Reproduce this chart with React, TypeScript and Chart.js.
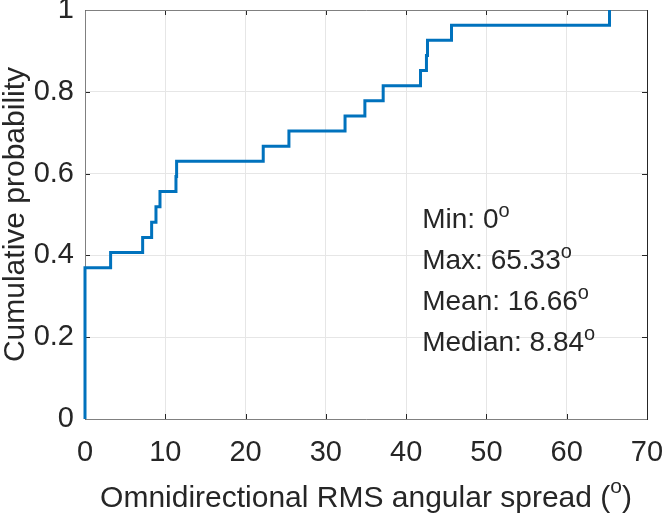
import React, { useEffect, useRef } from "react";
import { Chart, registerables } from "chart.js";

Chart.register(...registerables);

// empirical CDF: step positions (deg) and cumulative probability after each step
const stepX = [0, 0, 3.19, 7.18, 8.3, 8.84, 9.34, 11.33, 11.41, 22.2, 25.4, 32.39, 34.86, 37.14, 41.79, 42.53, 42.66, 45.65, 65.33];
const cdfY = [0, 0.37, 0.407, 0.444, 0.481, 0.519, 0.556, 0.593, 0.63, 0.667, 0.704, 0.741, 0.778, 0.815, 0.852, 0.889, 0.926, 0.963, 1];

const xTicks = [0, 10, 20, 30, 40, 50, 60, 70];
const yTicks = [0, 0.2, 0.4, 0.6, 0.8, 1];
const yTickLabels = ["0", "0.2", "0.4", "0.6", "0.8", "1"];

const statLabels = ["Min: 0", "Max: 65.33", "Mean: 16.66", "Median: 8.84"];
const statY = [0.485, 0.385, 0.285, 0.185];
const statX = 42;

const xTitle = "Omnidirectional RMS angular spread (";
const yTitle = "Cumulative probability";

const FONT = "'Liberation Sans', Arial, sans-serif";
const TEXT = "#262626";

const matlabAxes = {
  id: "matlabAxes",
  beforeDatasetsDraw(chart: any) {
    const { ctx, chartArea, scales } = chart;
    const { left, right, top, bottom } = chartArea;
    const x = scales.x;
    const y = scales.y;
    ctx.save();
    ctx.lineWidth = 1;
    ctx.strokeStyle = TEXT;
    const tl = 5;
    xTicks.forEach((v) => {
      const px = Math.round(x.getPixelForValue(v)) + 0.5;
      ctx.beginPath();
      ctx.moveTo(px, bottom);
      ctx.lineTo(px, bottom - tl);
      ctx.moveTo(px, top);
      ctx.lineTo(px, top + tl);
      ctx.stroke();
    });
    yTicks.forEach((v) => {
      const py = Math.round(y.getPixelForValue(v)) + 0.5;
      ctx.beginPath();
      ctx.moveTo(left, py);
      ctx.lineTo(left + tl, py);
      ctx.moveTo(right, py);
      ctx.lineTo(right - tl, py);
      ctx.stroke();
    });
    // box
    ctx.strokeStyle = "#808080";
    ctx.beginPath();
    ctx.moveTo(Math.round(right), Math.round(top) + 0.5);
    ctx.lineTo(Math.round(left) + 0.5, Math.round(top) + 0.5);
    ctx.lineTo(Math.round(left) + 0.5, Math.round(bottom) + 0.5);
    ctx.lineTo(Math.round(right), Math.round(bottom) + 0.5);
    ctx.stroke();
    ctx.strokeStyle = TEXT;
    ctx.beginPath();
    ctx.moveTo(Math.round(right) + 0.5, Math.round(top));
    ctx.lineTo(Math.round(right) + 0.5, Math.round(bottom) + 1);
    ctx.stroke();
    ctx.restore();
  },
  afterDraw(chart: any) {
    const { ctx, chartArea, scales } = chart;
    const x = scales.x;
    const y = scales.y;
    ctx.save();
    ctx.fillStyle = TEXT;
    // statistics text with degree superscript
    statLabels.forEach((label, i) => {
      const px = x.getPixelForValue(statX);
      const py = y.getPixelForValue(statY[i]);
      ctx.font = `28px ${FONT}`;
      ctx.textAlign = "left";
      ctx.textBaseline = "middle";
      ctx.fillText(label, px, py);
      const w = ctx.measureText(label).width;
      ctx.font = `20px ${FONT}`;
      ctx.textBaseline = "alphabetic";
      ctx.fillText("o", px + w, py - 3.7);
    });
    // x axis title
    ctx.font = `30px ${FONT}`;
    const w1 = ctx.measureText(xTitle).width;
    ctx.font = `21px ${FONT}`;
    const w2 = ctx.measureText("o").width;
    ctx.font = `30px ${FONT}`;
    const w3 = ctx.measureText(")").width;
    const cx = (chartArea.left + chartArea.right) / 2;
    const start = cx - (w1 + w2 + w3) / 2;
    const base = 506.5;
    ctx.textAlign = "left";
    ctx.textBaseline = "alphabetic";
    ctx.fillText(xTitle, start, base);
    ctx.font = `21px ${FONT}`;
    ctx.fillText("o", start + w1, base - 14);
    ctx.font = `30px ${FONT}`;
    ctx.fillText(")", start + w1 + w2, base);
    ctx.restore();
  },
};

export default function App() {
  const canvasRef = useRef<HTMLCanvasElement | null>(null);
  const chartRef = useRef<Chart | null>(null);

  useEffect(() => {
    const ctx = canvasRef.current?.getContext("2d");
    if (!ctx) return;
    if (chartRef.current) chartRef.current.destroy();

    chartRef.current = new Chart(ctx, {
      type: "line",
      data: {
        datasets: [
          {
            label: "CDF",
            data: stepX.map((v, i) => ({ x: v, y: cdfY[i] })),
            stepped: "before",
            borderColor: "#0072BD",
            borderWidth: 3,
            pointRadius: 0,
            fill: false,
            clip: 3,
          },
        ],
      },
      options: {
        responsive: false,
        animation: false,
        layout: { padding: { top: 10, right: 17, left: 0, bottom: 0 } },
        plugins: {
          legend: { display: false },
          tooltip: { enabled: false },
        },
        scales: {
          x: {
            type: "linear",
            min: 0,
            max: 70,
            afterBuildTicks: (scale: any) => {
              scale.ticks = xTicks.map((v) => ({ value: v }));
            },
            afterFit: (scale: any) => {
              scale.height = 96;
              scale.paddingLeft = 0;
              scale.paddingRight = 0;
            },
            ticks: {
              color: TEXT,
              font: { family: FONT, size: 29 },
              padding: 17,
              maxRotation: 0,
              callback: (v: any) => String(v),
            },
            grid: { color: "#e6e6e6", drawTicks: false },
            border: { display: false },
          },
          y: {
            type: "linear",
            min: 0,
            max: 1,
            afterBuildTicks: (scale: any) => {
              scale.ticks = yTicks.map((v) => ({ value: v }));
            },
            afterFit: (scale: any) => {
              scale.width = 85;
              scale.paddingTop = 0;
              scale.paddingBottom = 0;
            },
            ticks: {
              color: TEXT,
              font: { family: FONT, size: 29 },
              padding: 11,
              callback: (_v: any, i: number) => yTickLabels[i],
            },
            title: {
              display: true,
              text: yTitle,
              color: TEXT,
              font: { family: FONT, size: 30, lineHeight: 1.05 },
              padding: 0,
            },
            grid: { color: "#e6e6e6", drawTicks: false },
            border: { display: false },
          },
        },
      },
      plugins: [matlabAxes],
    });

    return () => {
      if (chartRef.current) {
        chartRef.current.destroy();
        chartRef.current = null;
      }
    };
  }, []);

  return (
    <div style={{ position: "absolute", left: 0, top: 0, width: 664, height: 515, background: "#fff" }}>
      <canvas ref={canvasRef} width={664} height={515} style={{ display: "block" }} />
    </div>
  );
}
